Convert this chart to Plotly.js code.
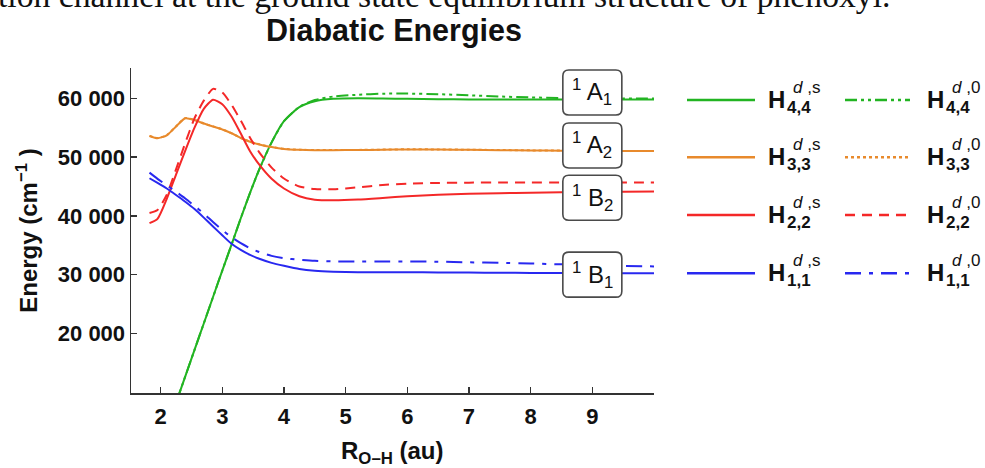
<!DOCTYPE html>
<html>
<head>
<meta charset="utf-8">
<script src="https://cdn.plot.ly/plotly-3.0.1.min.js"></script>
<style>html,body{margin:0;padding:0;background:#fff;}#chart{width:985px;height:468px;}</style>
</head>
<body>
<div id="chart"></div>
<script>
// ---------------- data ----------------
const R_AU = [1.82, 1.95, 2.1, 2.25, 2.4, 2.55, 2.7, 2.85, 3.0, 3.15, 3.3, 3.45, 3.6, 3.8, 4.0,
              4.25, 4.5, 4.8, 5.2, 5.6, 6.0, 6.5, 7.0, 7.5, 8.0, 8.5, 9.0, 9.5, 10.0];
const R_AU_44 = [2.1, 2.25, 2.4, 2.55, 2.7, 2.85, 3.0, 3.15, 3.3, 3.45, 3.6, 3.8, 4.0,
              4.25, 4.5, 4.8, 5.2, 5.6, 6.0, 6.5, 7.0, 7.5, 8.0, 8.5, 9.0, 9.5, 10.0];

const H44_s = [3700, 8200, 12700, 17200, 21700, 26200, 30700, 35100, 39600, 43900, 47900, 52500, 56100,
               58500, 59500, 59900, 60000, 59950, 59900, 59850, 59800, 59800, 59800, 59800, 59800, 59800, 59800];
const H44_0 = [3700, 8200, 12700, 17200, 21700, 26200, 30700, 35100, 39600, 43900, 47900, 52500, 56100,
               58550, 59700, 60300, 60600, 60780, 60800, 60700, 60500, 60300, 60150, 60020, 59960, 59950, 59950];

const H33_s = [53580, 53200, 53700, 55200, 56600, 56300, 55700, 55200, 54700, 54050, 53250, 52600, 52150, 51700, 51380,
               51230, 51180, 51180, 51200, 51250, 51300, 51280, 51230, 51180, 51120, 51080, 51050, 51030, 51020];
const H33_0 = [53600, 53230, 53720, 55220, 56620, 56320, 55720, 55220, 54720, 54070, 53270, 52620, 52170, 51720, 51400,
               51250, 51200, 51200, 51220, 51270, 51320, 51300, 51250, 51200, 51140, 51100, 51070, 51050, 51040];

const H22_s = [38760, 39500, 42900, 47000, 51100, 55000, 58200, 59750, 59000, 56900, 54000, 51000, 48700, 46300, 44650,
               43330, 42760, 42660, 42780, 43050, 43350, 43600, 43750, 43850, 43930, 44000, 44050, 44100, 44130];
const H22_0 = [40500, 41000, 43600, 47900, 52400, 56600, 59600, 61600, 61000, 58900, 56200, 53300, 50800, 48200, 46350,
               45000, 44550, 44520, 44850, 45250, 45480, 45600, 45650, 45680, 45680, 45670, 45660, 45660, 45660];

const H11_s = [46400, 45600, 44650, 43550, 42400, 41150, 39700, 38200, 36700, 35250, 34200, 33350, 32700, 32000, 31500,
               30950, 30650, 30500, 30420, 30400, 30400, 30380, 30350, 30320, 30300, 30280, 30260, 30250, 30240];
const H11_0 = [47350, 46300, 45200, 44100, 42950, 41700, 40400, 38950, 37600, 36350, 35350, 34500, 33850, 33200, 32800,
               32530, 32350, 32250, 32220, 32230, 32240, 32200, 32100, 32000, 31900, 31750, 31600, 31480, 31400];

const subLabels = ['4,4', '3,3', '2,2', '1,1'];
const stateLabels = ['A', 'A', 'B', 'B'];
const stateSubs = ['1', '2', '2', '1'];
const xTickVals = [2, 3, 4, 5, 6, 7, 8, 9];
const yTickVals = [20000, 30000, 40000, 50000, 60000];

// ---------------- styles / positions ----------------
const COL = {green: '#22b422', orange: '#e88a2c', red: '#f42828', blue: '#2828f0'};
const DASH = {
  dashdotdot: '12px,4px,3px,4px,3px,4px',
  dot: '3px,3px',
  dash: '10px,7px',
  dashdot: '16px,8px,4px,8px'
};
const rows = [
  {c: COL.green,  y0: H44_s, y1: H44_0, x: R_AU_44, d: DASH.dashdotdot},
  {c: COL.orange, y0: H33_s, y1: H33_0, x: R_AU,    d: DASH.dot},
  {c: COL.red,    y0: H22_s, y1: H22_0, x: R_AU,    d: DASH.dash},
  {c: COL.blue,   y0: H11_s, y1: H11_0, x: R_AU,    d: DASH.dashdot}
];

const PL = 131, PR = 654, PT = 68, PB = 393, W = 985, H = 468;
const fx = p => (p - PL) / (PR - PL);
const fy = p => (PB - p) / (PB - PT);

const FONT = 'Liberation Sans, Arial, sans-serif';

const traces = [];
rows.forEach(r => {
  traces.push({x: r.x, y: r.y0, mode: 'lines', line: {color: r.c, width: 2, shape: 'spline', smoothing: 0.6, dash: 'solid'}, showlegend: false, hoverinfo: 'skip'});
  traces.push({x: r.x, y: r.y1, mode: 'lines', line: {color: r.c, width: 2, shape: 'spline', smoothing: 0.6, dash: r.d}, showlegend: false, hoverinfo: 'skip'});
});

const shapes = [];
const annotations = [];

// state label boxes
const boxX = 9;
const boxY = [60985, 51980, 43090, 30000];
const bw = 29.5, bh = 22.5, rr = 6;
const boxPath = `M ${-bw+rr},${-bh} L ${bw-rr},${-bh} Q ${bw},${-bh} ${bw},${-bh+rr} L ${bw},${bh-rr} Q ${bw},${bh} ${bw-rr},${bh} L ${-bw+rr},${bh} Q ${-bw},${bh} ${-bw},${bh-rr} L ${-bw},${-bh+rr} Q ${-bw},${-bh} ${-bw+rr},${-bh} Z`;
boxY.forEach((yv, i) => {
  shapes.push({type: 'path', xref: 'x', yref: 'y', xsizemode: 'pixel', ysizemode: 'pixel',
    xanchor: boxX, yanchor: yv, path: boxPath, fillcolor: '#ffffff',
    line: {color: '#4a4a4a', width: 1.6}, layer: 'above'});
  annotations.push({xref: 'x', yref: 'y', x: boxX, y: yv, showarrow: false,
    text: `<sup>1</sup> ${stateLabels[i]}<sub>${stateSubs[i]}</sub>`,
    font: {family: FONT, size: 24, color: '#111'}, xanchor: 'center', yanchor: 'middle'});
});

// custom two-column legend
const legRows = [100, 157.3, 215, 273.3];
const legCols = [{x0: 687, x1: 755, tx: 766, sup: 'd</i> ,s'}, {x0: 845, x1: 910, tx: 925, sup: 'd</i> ,0'}];
rows.forEach((r, i) => {
  legCols.forEach((c, j) => {
    shapes.push({type: 'line', xref: 'paper', yref: 'paper', x0: fx(c.x0), x1: fx(c.x1), y0: fy(legRows[i]), y1: fy(legRows[i]),
      line: {color: r.c, width: 2.5, dash: j === 0 ? 'solid' : r.d}});
    annotations.push({xref: 'paper', yref: 'paper', x: fx(c.tx), y: fy(legRows[i] - 1), xanchor: 'left', yanchor: 'middle',
      showarrow: false, text: '<b>H</b>', font: {family: FONT, size: 24, color: '#111'}});
    annotations.push({xref: 'paper', yref: 'paper', x: fx(c.tx + 19), y: fy(legRows[i] + 7), xanchor: 'left', yanchor: 'middle',
      showarrow: false, text: subLabels[i], font: {family: FONT, size: 17, color: '#111', weight: 'bold'}});
    annotations.push({xref: 'paper', yref: 'paper', x: fx(c.tx + 25), y: fy(legRows[i] - 13), xanchor: 'left', yanchor: 'middle',
      showarrow: false, text: '<i>' + c.sup, font: {family: FONT, size: 17, color: '#111'}});
  });
});

// x-axis title
annotations.push({xref: 'paper', yref: 'paper', x: 0.5, y: fy(452.5), xanchor: 'center', yanchor: 'middle', showarrow: false,
  text: '<b>R<sub>O–H</sub> (au)</b>', font: {family: FONT, size: 24, color: '#111'}});

// clipped caption line at the very top of the picture
annotations.push({xref: 'paper', yref: 'paper', x: fx(892), y: fy(-4.5), xanchor: 'right', yanchor: 'middle', showarrow: false,
  text: 'ation channel at the ground state equilibrium structure of phenoxyl.',
  font: {family: 'Liberation Serif, Times New Roman, serif', size: 33.7, color: '#111'}});

const axisCommon = {
  showgrid: false, zeroline: false, showline: true, linecolor: '#333', linewidth: 1.5,
  ticks: 'inside', ticklen: 6, tickwidth: 1.3, tickcolor: '#333', mirror: false,
  tickfont: {family: FONT, size: 22, color: '#111', weight: 'bold'}
};

const layout = {
  width: W, height: H,
  margin: {l: PL, r: W - PR, t: PT, b: H - PB, pad: 0},
  paper_bgcolor: '#fff', plot_bgcolor: '#fff',
  separators: '. ',
  showlegend: false,
  title: {text: 'Diabatic Energies', font: {family: FONT, size: 30.5, color: '#111', weight: 'bold'},
    x: 394 / W, xanchor: 'center', xref: 'container', y: 1 - 30 / H, yanchor: 'middle', yref: 'container'},
  xaxis: Object.assign({}, axisCommon, {
    range: [1.52, 10.0], tickvals: xTickVals, ticklabelstandoff: 3
  }),
  yaxis: Object.assign({}, axisCommon, {
    range: [9873, 65150], tickvals: yTickVals, tickformat: ',d',
    title: {text: 'Energy (cm<sup>−1</sup> )', font: {family: FONT, size: 24, color: '#111', weight: 'bold'}, standoff: 13}
  }),
  shapes: shapes,
  annotations: annotations
};

Plotly.newPlot('chart', traces, layout, {staticPlot: true, displayModeBar: false});
</script>
</body>
</html>
